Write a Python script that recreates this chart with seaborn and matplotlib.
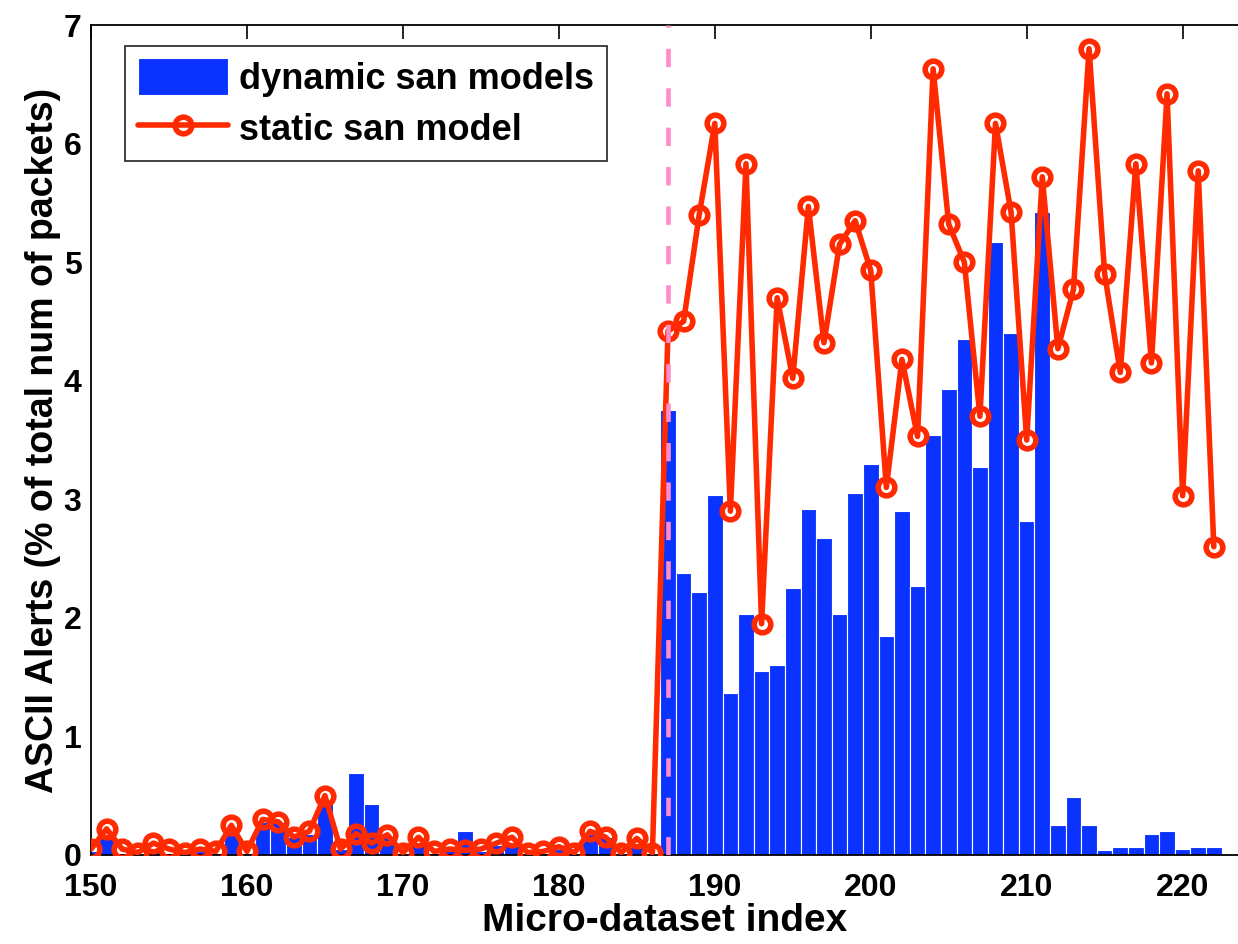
import numpy as np
import matplotlib
matplotlib.use("Agg")
import matplotlib.pyplot as plt
import seaborn as sns

# micro-dataset index
idx = list(range(150, 223))

# dynamic san models (bars)
dynamic = [0.03, 0.17, 0.02, 0.0, 0.05, 0.02, 0.0, 0.03, 0.02, 0.22,
           0.02, 0.28, 0.28, 0.15, 0.18, 0.45, 0.05, 0.69, 0.43, 0.15,
           0.02, 0.10, 0.02, 0.05, 0.20, 0.03, 0.08, 0.10, 0.01, 0.02,
           0.05, 0.01, 0.18, 0.15, 0.01, 0.07, 0.01, 3.75, 2.38, 2.22,
           3.04, 1.37, 2.03, 1.55, 1.60, 2.25, 2.92, 2.67, 2.03, 3.05,
           3.30, 1.85, 2.90, 2.27, 3.54, 3.93, 4.35, 3.27, 5.17, 4.40,
           2.82, 5.42, 0.25, 0.49, 0.25, 0.04, 0.07, 0.07, 0.18, 0.20,
           0.05, 0.07, 0.07]

# static san model (line)
static = [0.05, 0.22, 0.05, 0.02, 0.10, 0.05, 0.02, 0.05, 0.03, 0.25,
          0.03, 0.30, 0.28, 0.15, 0.20, 0.50, 0.05, 0.18, 0.10, 0.17,
          0.02, 0.15, 0.03, 0.05, 0.04, 0.05, 0.10, 0.15, 0.02, 0.03,
          0.07, 0.02, 0.20, 0.15, 0.02, 0.14, 0.02, 4.42, 4.50, 5.40,
          6.17, 2.90, 5.83, 1.95, 4.70, 4.02, 5.47, 4.32, 5.15, 5.35,
          4.93, 3.10, 4.18, 3.53, 6.63, 5.32, 5.00, 3.70, 6.17, 5.42,
          3.50, 5.72, 4.27, 4.77, 6.80, 4.90, 4.07, 5.83, 4.15, 6.42,
          3.03, 5.77, 2.60]

split_at = 187

sns.set_style("white")
plt.rcParams['font.family'] = ['Liberation Sans', 'DejaVu Sans']
plt.rcParams['font.weight'] = 'bold'
plt.rcParams['text.color'] = 'black'
plt.rcParams['axes.labelcolor'] = 'black'
plt.rcParams['xtick.color'] = 'black'
plt.rcParams['ytick.color'] = 'black'

fig = plt.figure(figsize=(12.38, 9.44), dpi=100)
ax = fig.add_axes([0.0735, 0.0943, 0.9265, 0.8792])

sns.barplot(x=idx, y=dynamic, native_scale=True, width=1.0, color="#0b33ff",
            saturation=1, edgecolor="white", linewidth=0.8,
            label="dynamic san models", ax=ax, zorder=2)
sns.lineplot(x=idx, y=static, color="#ff2a00", lw=4, marker="o", markersize=12,
             markerfacecolor="none", markeredgecolor="#ff2a00", markeredgewidth=4,
             label="static san model", ax=ax, zorder=3)
ax.axvline(split_at, color="#ff8cc8", lw=3.3, ls=(0, (4, 4.6)), zorder=4)

ax.set_xlim(150, 223.55)
ax.set_ylim(0, 7)
ax.set_xticks(range(150, 221, 10))
ax.set_xticklabels([str(t) for t in range(150, 221, 10)])
ax.set_yticks(range(0, 8))
ax.tick_params(direction="in", length=10, width=1.2, labelsize=23,
               top=True, right=False)
ax.tick_params(axis="x", pad=13)
ax.tick_params(axis="y", pad=7)
for s in ax.spines.values():
    s.set_color("black")
    s.set_linewidth(1.3)
ax.spines["right"].set_visible(False)

ax.set_xlabel("Micro-dataset index", fontsize=28, fontweight="bold", labelpad=0)
ax.set_ylabel("ASCII Alerts (% of total num of packets)", fontsize=27,
              fontweight="bold", labelpad=2)

handles, labels = ax.get_legend_handles_labels()
order = [labels.index("dynamic san models"), labels.index("static san model")]
leg = ax.legend([handles[i] for i in order], [labels[i] for i in order],
                loc="upper left", bbox_to_anchor=(0.03, 0.975), fontsize=26,
                frameon=True, fancybox=False, edgecolor="black",
                handlelength=2.5, handleheight=1.2, borderpad=0.35,
                labelspacing=0.35, handletextpad=0.3, borderaxespad=0)
leg.get_frame().set_linewidth(1.3)

fig.savefig("out.png", dpi=100)
